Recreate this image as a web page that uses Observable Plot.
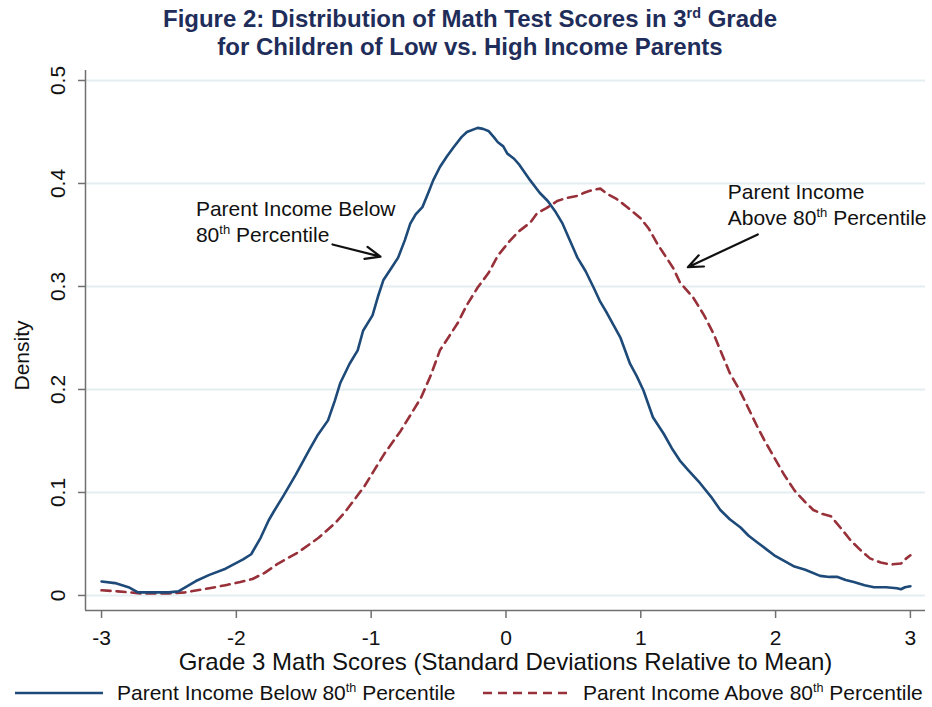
<!DOCTYPE html>
<html>
<head>
<meta charset="utf-8">
<script src="https://cdn.jsdelivr.net/npm/d3@7"></script>
<script src="https://cdn.jsdelivr.net/npm/@observablehq/plot@0.6"></script>
<style>
  body { margin: 0; background: #fff; width: 932px; height: 707px; position: relative; overflow: hidden;
         font-family: "Liberation Sans", Arial, sans-serif; }
  #title { position: absolute; top: 5px; left: 0; width: 940px; text-align: center; font-weight: bold; font-size: 24px; line-height: 28px; color: #1f2d5a; }
  #title sup, #legend sup { font-size: 0.6em; vertical-align: 0.6em; line-height: 0; }
  #chart { position: absolute; top: 70px; left: 0; }
  #legend { position: absolute; top: 679px; left: 0; width: 932px; height: 28px; font-size: 21px; color: #111; }
  #legend span { position: absolute; top: 0; white-space: nowrap; line-height: 28px; }
  #legend svg { position: absolute; top: 0; }
</style>
</head>
<body>
<div id="title">Figure 2: Distribution of Math Test Scores in 3<sup>rd</sup> Grade<br>for Children of Low vs. High Income Parents</div>
<div id="chart"></div>
<div id="legend"></div>
<script>
// ---- data ----
const xTicks = [-3, -2, -1, 0, 1, 2, 3];
const yTicks = [0, 0.1, 0.2, 0.3, 0.4, 0.5];
const xLabel = "Grade 3 Math Scores (Standard Deviations Relative to Mean)";
const yLabel = "Density";
const seriesNames = ["Parent Income Below 80th Percentile", "Parent Income Above 80th Percentile"];

const lowScores = [-3.0,-2.9,-2.8,-2.73,-2.6,-2.5,-2.43,-2.3,-2.2,-2.08,-1.95,-1.89,-1.82,-1.76,-1.72,-1.65,-1.56,-1.46,-1.40,-1.32,-1.27,-1.23,-1.16,-1.10,-1.06,-0.99,-0.95,-0.91,-0.85,-0.80,-0.75,-0.71,-0.67,-0.62,-0.57,-0.54,-0.49,-0.44,-0.39,-0.33,-0.29,-0.21,-0.17,-0.13,-0.09,-0.06,-0.02,0.01,0.06,0.10,0.18,0.25,0.31,0.37,0.42,0.48,0.53,0.59,0.65,0.70,0.75,0.80,0.85,0.92,0.97,1.02,1.09,1.17,1.23,1.29,1.35,1.44,1.52,1.59,1.66,1.74,1.80,1.87,1.93,1.99,2.07,2.14,2.22,2.33,2.40,2.46,2.52,2.58,2.66,2.73,2.82,2.90,2.93,2.96,3.00];
const lowDensity = [0.0136,0.012,0.008,0.003,0.003,0.003,0.004,0.014,0.020,0.026,0.035,0.040,0.056,0.073,0.082,0.097,0.117,0.141,0.155,0.170,0.189,0.206,0.225,0.238,0.257,0.272,0.290,0.306,0.318,0.328,0.345,0.361,0.370,0.377,0.393,0.403,0.416,0.426,0.435,0.445,0.450,0.454,0.453,0.451,0.445,0.440,0.436,0.429,0.424,0.418,0.403,0.391,0.383,0.372,0.361,0.343,0.328,0.315,0.299,0.285,0.274,0.262,0.250,0.225,0.213,0.199,0.173,0.157,0.143,0.131,0.122,0.109,0.096,0.083,0.074,0.066,0.058,0.051,0.045,0.039,0.033,0.028,0.025,0.019,0.018,0.018,0.015,0.013,0.010,0.008,0.008,0.007,0.006,0.008,0.009];

const highScores = [-3.0,-2.88,-2.71,-2.50,-2.38,-2.2,-2.08,-1.97,-1.88,-1.79,-1.69,-1.54,-1.39,-1.27,-1.20,-1.13,-1.05,-0.98,-0.90,-0.78,-0.70,-0.63,-0.56,-0.49,-0.42,-0.36,-0.29,-0.21,-0.13,-0.06,0.02,0.09,0.18,0.23,0.30,0.38,0.45,0.53,0.58,0.65,0.70,0.75,0.82,0.90,1.00,1.06,1.12,1.18,1.24,1.29,1.39,1.47,1.54,1.60,1.66,1.73,1.79,1.86,1.92,1.99,2.06,2.14,2.21,2.28,2.35,2.41,2.48,2.56,2.63,2.70,2.78,2.85,2.93,2.96,3.00];
const highDensity = [0.005,0.004,0.002,0.002,0.003,0.007,0.010,0.013,0.016,0.022,0.031,0.042,0.056,0.070,0.080,0.092,0.106,0.121,0.138,0.160,0.177,0.192,0.213,0.238,0.252,0.264,0.282,0.299,0.313,0.330,0.343,0.353,0.362,0.371,0.376,0.383,0.386,0.388,0.391,0.394,0.395,0.390,0.385,0.377,0.366,0.356,0.342,0.330,0.318,0.304,0.289,0.272,0.254,0.235,0.216,0.200,0.184,0.165,0.150,0.134,0.118,0.102,0.092,0.083,0.079,0.077,0.066,0.053,0.044,0.036,0.032,0.030,0.031,0.035,0.039];

// annotations
const annText = ["Parent Income Below", "80th Percentile", "Parent Income", "Above 80th Percentile"];
const annX = [-2.30, -2.30, 1.645, 1.645];
const annY = [0.3745, 0.3502, 0.3916, 0.3664];
const arrowX1 = [-1.287, 1.868];
const arrowY1 = [0.3408, 0.3505];
const arrowX2 = [-0.931, 1.349];
const arrowY2 = [0.329, 0.3187];
const yLabelPos = [0.233];

// ---- styling ----
const blue = "#1d4a78";
const red = "#973039";
const axisGray = "#707070";
const font = '"Liberation Sans", Arial, sans-serif';

const low = lowScores.map((x, i) => ({x, y: lowDensity[i]}));
const high = highScores.map((x, i) => ({x, y: highDensity[i]}));
const ann = annText.map((t, i) => ({t, x: annX[i], y: annY[i]}));
const arrows = arrowX1.map((x1, i) => ({x1, y1: arrowY1[i], x2: arrowX2[i], y2: arrowY2[i]}));

const xDomain = [-3.119, 3.112];
const yDomain = [-0.0146, 0.5097];

const chart = Plot.plot({
  width: 932,
  height: 610,
  marginLeft: 85,
  marginRight: 7,
  marginTop: 0,
  marginBottom: 70,
  style: {background: "white", overflow: "visible", fontFamily: font},
  x: {domain: xDomain},
  y: {domain: yDomain},
  marks: [
    Plot.gridY(yTicks, {stroke: "#e4eef1", strokeOpacity: 1, strokeWidth: 2}),
    Plot.ruleX([xDomain[0]], {stroke: axisGray, strokeWidth: 1.5}),
    Plot.ruleY([yDomain[0]], {stroke: axisGray, strokeWidth: 1.5}),
    Plot.axisX({ticks: xTicks, tickSize: 8, tickPadding: 12, tickFormat: d => String(d), label: null,
      stroke: axisGray, strokeWidth: 1.5, fill: "#111", fontSize: 21, fontFamily: font}),
    Plot.axisY({ticks: yTicks, tickSize: 7, tickFormat: () => "", label: null, stroke: axisGray, strokeWidth: 1.5}),
    Plot.text(yTicks, {y: d => d, text: d => String(d), frameAnchor: "left", textAnchor: "middle", lineAnchor: "middle",
      rotate: -90, dx: -27, fontSize: 21, fontFamily: font, fill: "#111"}),
    Plot.text(yLabelPos, {y: d => d, text: () => yLabel, frameAnchor: "left", textAnchor: "middle", lineAnchor: "middle",
      rotate: -90, dx: -63, fontSize: 21, fontFamily: font, fill: "#111"}),
    Plot.text([xLabel], {frameAnchor: "bottom", dy: 59, fontSize: 24, fontFamily: font, fill: "#111"}),
    Plot.line(high, {x: "x", y: "y", stroke: red, strokeWidth: 2.6, strokeDasharray: "9,6", curve: "linear"}),
    Plot.line(low, {x: "x", y: "y", stroke: blue, strokeWidth: 2.6, curve: "linear"}),
    Plot.text(ann, {x: "x", y: "y", text: "t", textAnchor: "start", lineAnchor: "middle", fontSize: 21, fontFamily: font, fill: "#111"}),
    Plot.arrow(arrows, {x1: "x1", y1: "y1", x2: "x2", y2: "y2", stroke: "#111", strokeWidth: 2.2, headLength: 11, headAngle: 45})
  ]
});

// superscripts "th" in annotation texts
d3.select(chart).selectAll("text").each(function () {
  const t = this.textContent;
  if (this.childElementCount === 0 && t.includes("80th")) {
    const parts = t.split("80th");
    const sel = d3.select(this);
    sel.text(null);
    sel.append("tspan").text(parts[0] + "80");
    sel.append("tspan").attr("font-size", 13).attr("dy", -8).text("th");
    sel.append("tspan").attr("dy", 8).text(parts[1]);
  }
});

document.getElementById("chart").appendChild(chart);

// legend
const legend = document.getElementById("legend");
function sup(name) { return name.replace("80th", "80<sup>th</sup>"); }
legend.innerHTML = `
  <svg width="932" height="28" style="left:0">
    <line x1="15" x2="103" y1="14" y2="14" stroke="${blue}" stroke-width="2.6"/>
    <line x1="483" x2="571" y1="14" y2="14" stroke="${red}" stroke-width="2.6" stroke-dasharray="9,6"/>
  </svg>
  <span style="left:117px">${sup(seriesNames[0])}</span>
  <span style="left:583px">${sup(seriesNames[1])}</span>`;
</script>
</body>
</html>
